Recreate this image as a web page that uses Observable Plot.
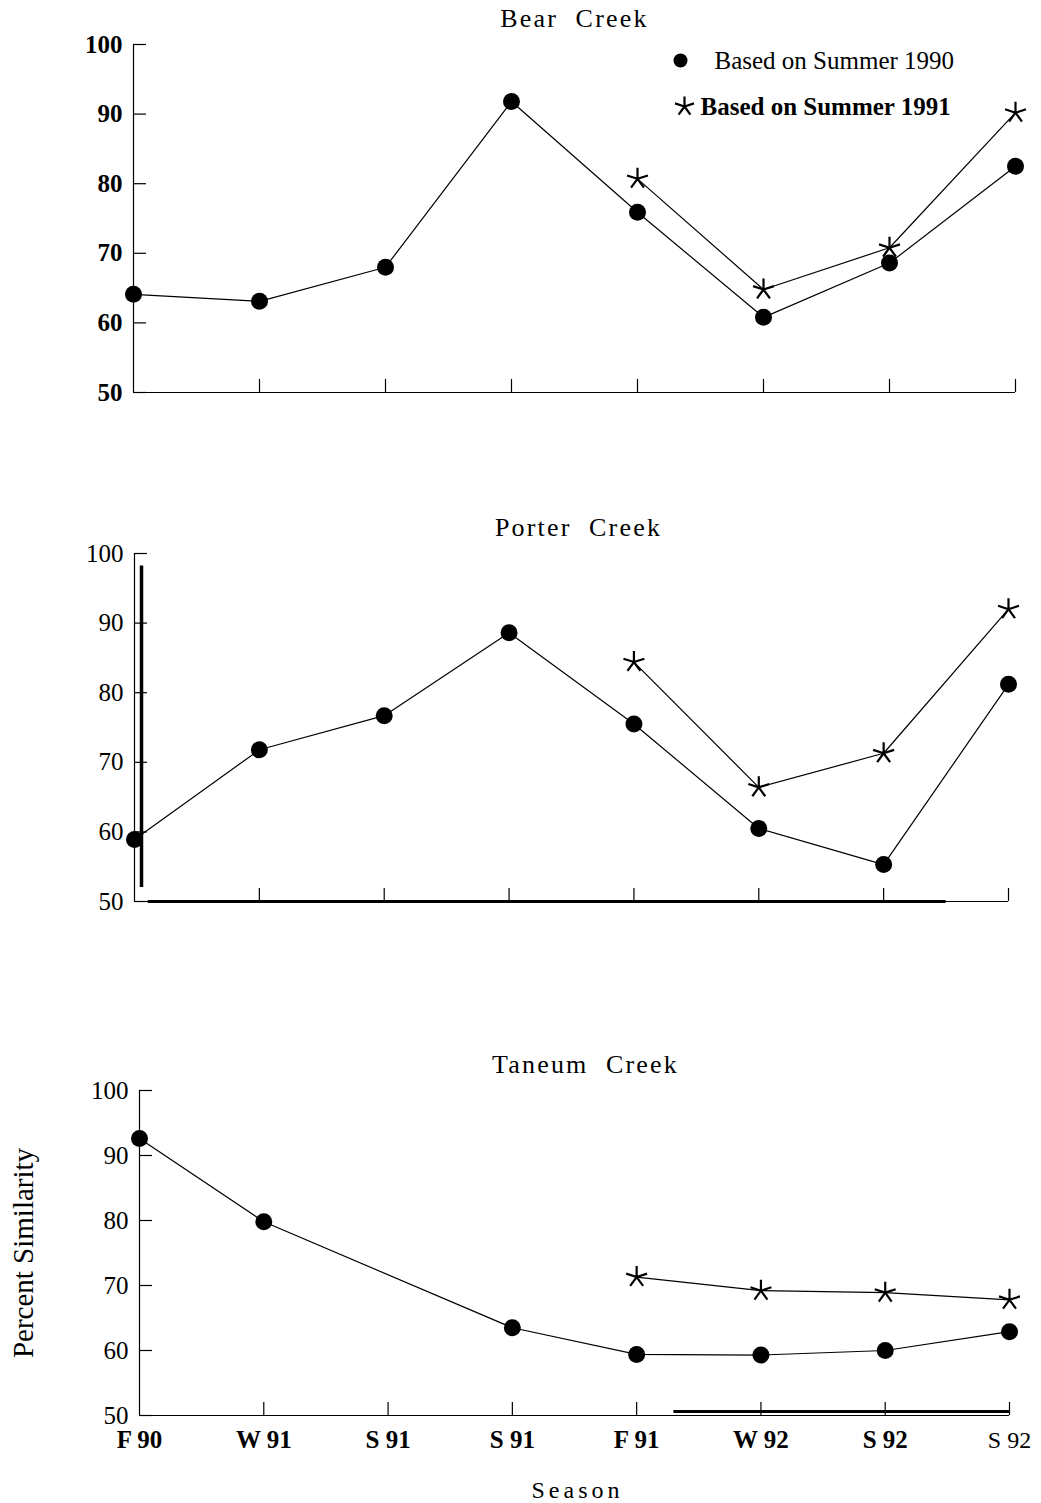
<!DOCTYPE html>
<html>
<head>
<meta charset="utf-8">
<script src="https://cdn.jsdelivr.net/npm/d3@7"></script>
<script src="https://cdn.jsdelivr.net/npm/@observablehq/plot@0.6"></script>
<style>
  html, body { margin: 0; padding: 0; background: #fff; }
  #chart svg { display: block; }
  .bold-y g[aria-label="y-axis tick label"] text { font-weight: bold; }
  .tan g[aria-label="x-axis tick label"] text { font-weight: bold; }
  .tan g[aria-label="x-axis tick label"] text:last-child { font-weight: normal; font-size: 24px; }
</style>
</head>
<body>
<div id="chart"></div>
<script>
// ---- data ----
const seasons = ["F 90", "W 91", "S 91", "S 91", "F 91", "W 92", "S 92", "S 92"];
const seasonIndex = [0, 1, 2, 3, 4, 5, 6, 7];
const yTicks = [50, 60, 70, 80, 90, 100];

const bear1990 = [64.1, 63.1, 68.0, 91.8, 75.9, 60.8, 68.6, 82.5];
const bear1991 = [null, null, null, null, 80.7, 64.8, 70.8, 90.2];

const porter1990 = [58.9, 71.8, 76.7, 88.6, 75.5, 60.5, 55.3, 81.2];
const porter1991 = [null, null, null, null, 84.4, 66.4, 71.3, 92.0];

const taneum1990 = [92.6, 79.8, null, 63.5, 59.4, 59.3, 60.0, 62.9];
const taneum1991 = [null, null, null, null, 71.3, 69.2, 68.9, 67.8];

const legendLabels = ["Based on Summer 1990", "Based on Summer 1991"];
const titles = ["Bear  Creek", "Porter  Creek", "Taneum  Creek"];
const xTitle = "Season";
const yTitle = "Percent Similarity";

// ---- helpers ----
const toPts = arr => arr.map((v, i) => ({i, v})).filter(d => d.v != null);

const star5 = {
  draw(ctx, size) {
    const r = Math.sqrt(size / Math.PI);
    for (let k = 0; k < 5; k++) {
      const a = -Math.PI / 2 + k * 2 * Math.PI / 5;
      ctx.moveTo(0, 0);
      ctx.lineTo(r * Math.cos(a), r * Math.sin(a));
    }
  }
};

const FONT = "'Liberation Serif', 'Times New Roman', serif";

function spaced(svg, str, spacing) {
  d3.select(svg).selectAll("text")
    .filter(function () { return this.textContent === str; })
    .style("letter-spacing", spacing + "px")
    .style("white-space", "pre")
    .attr("xml:space", "preserve");
}

function panel({title, s1990, s1991, height, marginTop, marginBottom, marginLeft, marginRight,
                titleDx, xLabels, legend, extra = []}) {
  const p1 = toPts(s1990), p2 = toPts(s1991);
  const plotW = 1041 - marginLeft - marginRight;
  const marks = [
    Plot.ruleX([0], {stroke: "black", strokeWidth: 1.2}),
    Plot.tickY(yTicks, {y: d => d, insetRight: plotW - 13, stroke: "black", strokeWidth: 1.2}),
    Plot.ruleY([50], {stroke: "black", strokeWidth: 1.2}),
    Plot.ruleX(seasonIndex.slice(1), {x: d => d, y1: 50, y2: 50 + 13 * 50 / (height - marginTop - marginBottom), stroke: "black", strokeWidth: 1.2}),
    ...extra,
    Plot.axisY({ticks: yTicks, tickSize: 0, tickPadding: 11, label: null, fontSize: 25}),
    xLabels
      ? Plot.axisX({ticks: seasonIndex, tickFormat: i => seasons[i], tickSize: 0, tickPadding: 15, label: null, fontSize: 25})
      : null,
    Plot.line(p1, {x: "i", y: "v", stroke: "black", strokeWidth: 1.2}),
    Plot.line(p2, {x: "i", y: "v", stroke: "black", strokeWidth: 1.2}),
    Plot.dot(p1, {x: "i", y: "v", r: 8.5, fill: "black", stroke: "none"}),
    Plot.dot(p2, {x: "i", y: "v", r: 11, symbol: star5, stroke: "black", strokeWidth: 2.2, fill: "none"}),
    Plot.text([title], {frameAnchor: "top", dx: titleDx, dy: -26, text: d => d,
      fontSize: 26, fill: "black", textAnchor: "middle", lineAnchor: "middle"})
  ];
  const svg = Plot.plot({
    width: 1041, height, marginTop, marginBottom, marginLeft, marginRight,
    style: {fontFamily: FONT, fontSize: "25px", color: "black", background: "white", overflow: "visible"},
    x: {domain: [0, 7], axis: null},
    y: {domain: [50, 100], axis: null},
    marks: [...marks, ...(legend || [])].filter(Boolean)
  });
  spaced(svg, title, 2.2);
  return svg;
}

const container = document.getElementById("chart");

// Bear Creek
const bearLegend = [
  Plot.dot([0], {frameAnchor: "top-left", dx: 680 - 133, dy: 60 - 44, r: 7, fill: "black"}),
  Plot.text([legendLabels[0]], {frameAnchor: "top-left", dx: 714 - 133, dy: 60 - 44, text: d => d,
    textAnchor: "start", lineAnchor: "middle", fontSize: 25, fill: "black"}),
  Plot.dot([0], {frameAnchor: "top-left", dx: 684 - 133, dy: 106 - 44, r: 10, symbol: star5, stroke: "black", strokeWidth: 2.2, fill: "none"}),
  Plot.text([legendLabels[1]], {frameAnchor: "top-left", dx: 700 - 133, dy: 106 - 44, text: d => d,
    textAnchor: "start", lineAnchor: "middle", fontSize: 25, fontWeight: "bold", fill: "black"})
];
const bear = panel({title: titles[0], s1990: bear1990, s1991: bear1991, height: 500,
  marginTop: 44, marginBottom: 108, marginLeft: 133, marginRight: 26, titleDx: 0, legend: bearLegend});
bear.classList.add("bold-y");
container.append(bear);

// Porter Creek
const porter = panel({title: titles[1], s1990: porter1990, s1991: porter1991, height: 540,
  marginTop: 53, marginBottom: 139, marginLeft: 134, marginRight: 33, titleDx: 7,
  extra: [
    Plot.ruleX([0], {dx: 7, y1: 52, y2: 98.2, stroke: "black", strokeWidth: 3.5}),
    Plot.ruleY([50], {x1: 0.11, x2: 6.5, stroke: "black", strokeWidth: 3})
  ]});
container.append(porter);

// Taneum Creek
const taneum = panel({title: titles[2], s1990: taneum1990, s1991: taneum1991, height: 463,
  marginTop: 50, marginBottom: 88, marginLeft: 139, marginRight: 32, titleDx: 11, xLabels: true,
  legend: [
    Plot.ruleY([50], {x1: 4.3, x2: 7, dy: -4, stroke: "black", strokeWidth: 3}),
    Plot.text([xTitle], {frameAnchor: "bottom", dx: 3, dy: 75, text: d => d, fontSize: 24,
      lineAnchor: "middle", fill: "black"}),
    Plot.text([yTitle], {frameAnchor: "left", dx: 23 - 139, dy: 0, rotate: -90, text: d => d,
      fontSize: 29, lineAnchor: "middle", textAnchor: "middle", fill: "black"})
  ]});
taneum.classList.add("tan");
spaced(taneum, xTitle, 4);
container.append(taneum);
</script>
</body>
</html>
